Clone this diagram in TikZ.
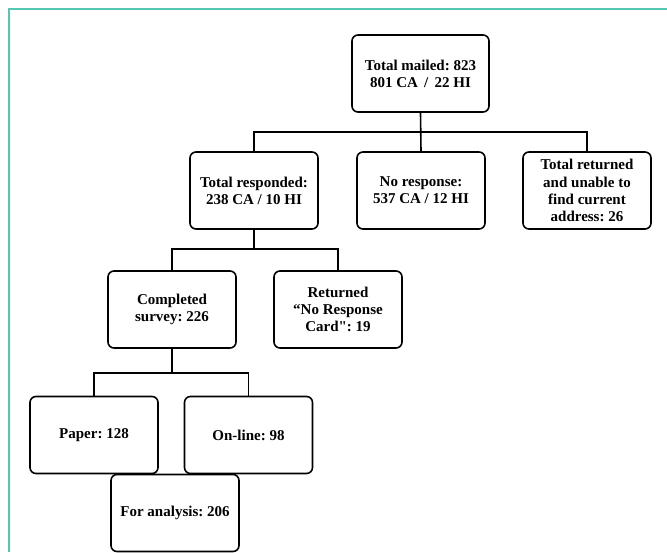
\documentclass[tikz,border=0pt]{standalone}
\usepackage{fontspec}
\setmainfont{Liberation Serif}[Ligatures = TeXOff]
\usetikzlibrary{positioning}
\frenchspacing

\begin{document}
\begin{tikzpicture}
[x = 1pt, y = -1pt, line cap = round,
box/.style = {draw, line width = 1.6pt, rounded corners = 6pt, fill = white, align = center,
minimum width = 128pt, minimum height = 77pt, inner sep = 2pt,
font = \fontsize{15}{17.2}\selectfont\bfseries},
link/.style = {line width = 1.6pt}]

\definecolor{framecolor}{RGB}{85,198,178}

\useasboundingbox (0, 0) rectangle (667, 552);
\draw[framecolor, line width = 1.6pt, line cap = butt] (667, 9) -- (9, 9) -- (9, 552);

% levels of the tree
\coordinate (bar one) at (0, 132);
\coordinate (bar two) at (0, 249);
\coordinate (bar three) at (0, 373);

\node[box, minimum width = 137pt] (mailed) at (420.5, 73.5) {Total mailed: 823\\801 CA \,/\, 22 HI};

\node[box] (responded) at (254, 190.5) {Total responded:\\238 CA / 10 HI};
\node[box] (noresponse) at (421, 190.5) {No response:\\537 CA / 12 HI};
\node[box] (returned) at (587, 190.5) {Total returned\\and unable to\\find current\\address: 26};

\node[box] (completed) at (172, 309.5) {Completed\\survey: 226};
\node[box] (card) at (338, 309.5) {Returned\\“No Response\\Card": 19};

\node[box] (paper) at (94, 435) {Paper: 128};
\node[box] (online) at (248.5, 435) {On-line: 98};
\node[box] (analysis) at (175, 513) {For analysis: 206};

\draw[link] (mailed.south) -- (noresponse.north);
\draw[link] (responded.north) |- (mailed.south |- bar one) -| (returned.north);

\draw[link] (responded.south) -- (responded.south |- bar two);
\draw[link] (completed.north) |- (responded.south |- bar two) -| (card.north);

\draw[link] (completed.south) -- (completed.south |- bar three);
\draw[link] (paper.north) |- (completed.south |- bar three) -| (online.north);
\end{tikzpicture}
\end{document}
